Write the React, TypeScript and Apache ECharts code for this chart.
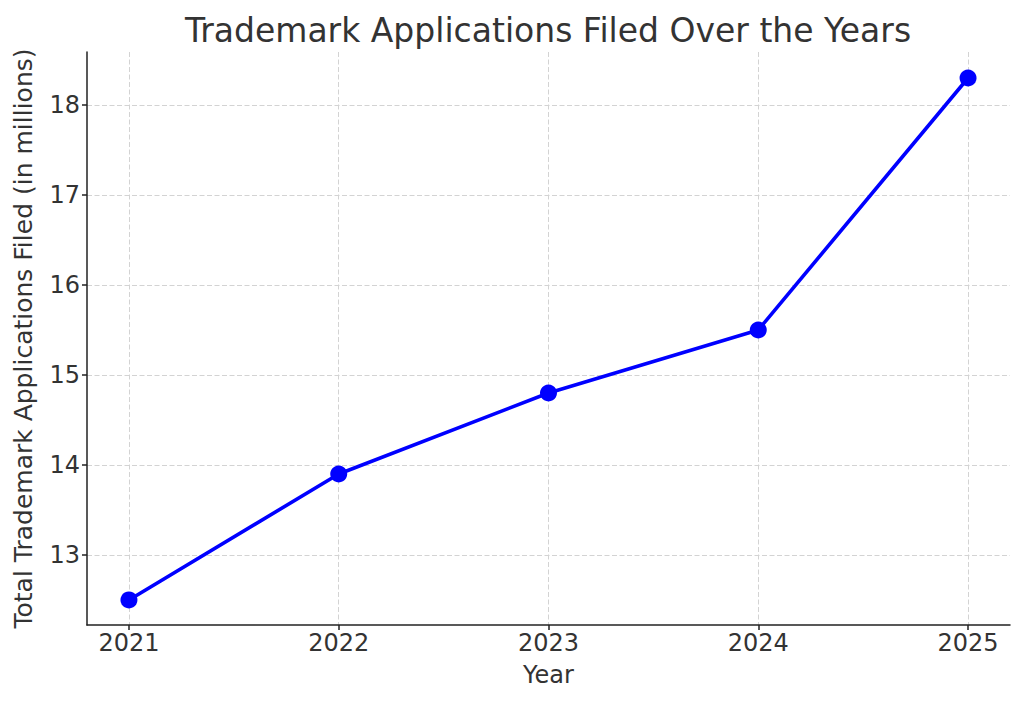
import React, { useEffect, useRef } from "react";
import * as echarts from "echarts";

const years = [2021, 2022, 2023, 2024, 2025];
const applications = [12.5, 13.9, 14.8, 15.5, 18.3];
const yTicks = [13, 14, 15, 16, 17, 18];

const FONT = "DejaVu Sans";
const TEXT = "#333333";

export default function App() {
  const ref = useRef<HTMLDivElement>(null);
  useEffect(() => {
    if (!ref.current) return;
    const chart = echarts.init(ref.current, null, { renderer: "svg" });
    chart.setOption({
      animation: false,
      backgroundColor: "#ffffff",
      title: {
        text: "Trademark Applications Filed Over the Years",
        left: 543,
        textAlign: "center",
        top: 9,
        textStyle: { fontFamily: FONT, fontSize: 33, fontWeight: "normal", color: TEXT },
      },
      grid: { left: 87, right: 14, top: 52, bottom: 80, containLabel: false },
      xAxis: {
        type: "value",
        min: 2020.8,
        max: 2025.2,
        name: "Year",
        nameLocation: "middle",
        nameGap: 38,
        nameTextStyle: { fontFamily: FONT, fontSize: 24, color: TEXT },
        axisLine: { show: true, lineStyle: { color: "#222", width: 1.5 } },
        axisTick: { show: true, inside: false, length: 5, lineStyle: { color: "#222", width: 1.5 }, customValues: years },
        axisLabel: {
          customValues: years,
          margin: 6,
          fontFamily: FONT,
          fontSize: 24,
          color: TEXT,
          formatter: (v: number) => String(Math.round(v)),
        },
        splitLine: { show: true, lineStyle: { color: "#d3d3d3", width: 1, type: [5, 2.5] } },
      },
      yAxis: {
        type: "value",
        min: 12.222,
        max: 18.589,
        name: "Total Trademark Applications Filed (in millions)",
        nameLocation: "middle",
        nameGap: 51,
        nameTextStyle: { fontFamily: FONT, fontSize: 25, color: TEXT },
        axisLine: { show: true, lineStyle: { color: "#222", width: 1.5 } },
        axisTick: { show: true, inside: false, length: 5, lineStyle: { color: "#222", width: 1.5 }, customValues: yTicks },
        axisLabel: {
          customValues: yTicks,
          margin: 7,
          fontFamily: FONT,
          fontSize: 24,
          color: TEXT,
          formatter: (v: number) => String(Math.round(v)),
        },
        splitLine: { show: true, lineStyle: { color: "#d3d3d3", width: 1, type: [5, 2.5] } },
      },
      series: [
        {
          type: "line",
          data: years.map((y, i) => [y, applications[i]]),
          symbol: "circle",
          symbolSize: 17,
          lineStyle: { color: "#0000ff", width: 3.6 },
          itemStyle: { color: "#0000ff" },
          z: 5,
        },
      ],
    });
    return () => chart.dispose();
  }, []);
  return (
    <div
      ref={ref}
      style={{ position: "fixed", left: 0, top: 0, width: 1024, height: 705, background: "#fff" }}
    />
  );
}
